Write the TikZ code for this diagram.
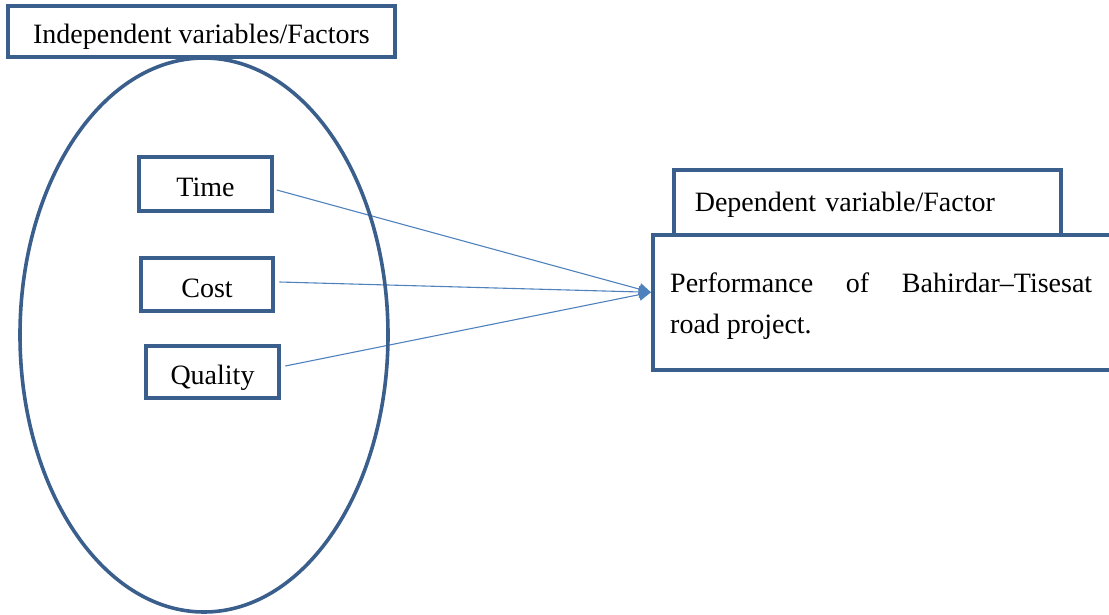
\documentclass[tikz,border=0pt]{standalone}
\usepackage{fontspec}
\setmainfont{Liberation Serif}
\usetikzlibrary{arrows.meta,shapes.geometric,backgrounds}
\definecolor{boxblue}{RGB}{58,95,140}
\definecolor{arrowblue}{RGB}{79,129,189}
\begin{document}
\begin{tikzpicture}[x=1pt,y=-1pt,
  every node/.style={font=\fontsize{28}{41}\selectfont},
  varbox/.style={draw=boxblue, line width=3.6pt, rectangle, inner sep=0pt, text height=25pt, text depth=0pt, align=center},
  link/.style={draw=arrowblue, line width=1.1pt, -{Triangle[length=12pt,width=12pt]}},
]
\useasboundingbox (0,0) rectangle (1109,615);
\clip (0,0) rectangle (1109,615);
\node[draw=boxblue, line width=3.6pt, ellipse, minimum width=368pt, minimum height=554pt, inner sep=0pt] (indep) at (204,335) {};
\node[varbox, minimum width=387pt, minimum height=51pt] (indeptitle) at (201.5,31.5) {Independent variables/Factors};
\node[varbox, minimum width=133pt, minimum height=54pt] (time) at (205.5,184) {Time};
\node[varbox, minimum width=132pt, minimum height=53pt] (cost) at (207,284.5) {Cost};
\node[varbox, minimum width=133pt, minimum height=52pt] (quality) at (212.5,372) {Quality};
\node[varbox, anchor=north west, minimum width=387pt, minimum height=66pt, text width=345pt, align=left, text height=18pt] (deptitle) at (672,168) {Dependent variable/Factor};
\node[draw=boxblue, line width=3.6pt, fill=white, rectangle, anchor=north west, minimum width=462pt, minimum height=135pt, inner sep=0pt] (dep) at (651,233) {};
\node[anchor=north west, inner sep=0pt, align=left] (deptext) at (670,273) {\makebox[422pt][s]{Performance of Bahirdar–Tisesat}\\road project.};
\begin{scope}[on background layer]
\coordinate (tip) at ([shift={(0,-10)}]dep.west);
\draw[link] ([shift={(3,6)}]time.east) -- (tip);
\draw[link] ([shift={(4.5,-2.5)}]cost.east) -- (tip);
\draw[link] ([shift={(4.5,-6)}]quality.east) -- (tip);
\end{scope}
\end{tikzpicture}
\end{document}
